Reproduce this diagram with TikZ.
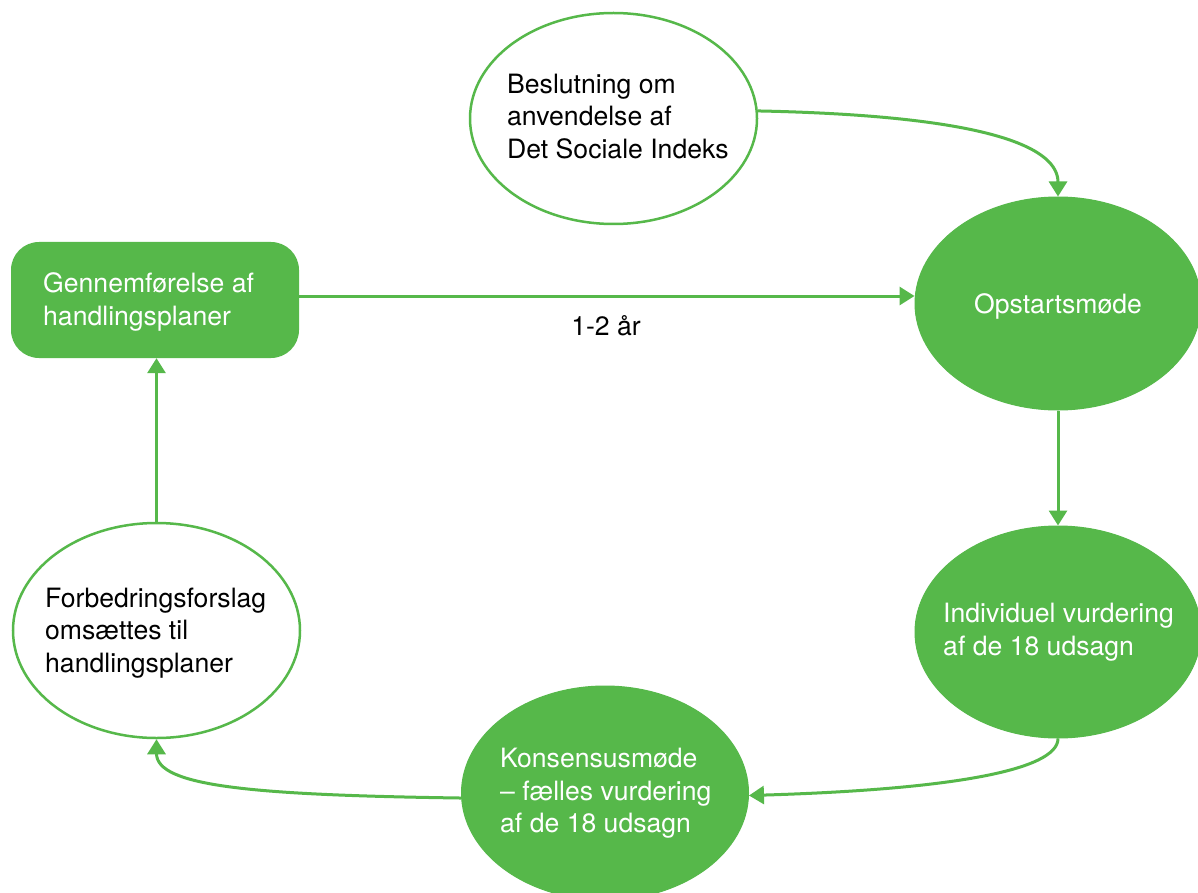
\documentclass[tikz,border=0pt]{standalone}
\usepackage{fontspec}
\setmainfont{TeX Gyre Heros}
\usetikzlibrary{shapes.geometric,arrows.meta}
\definecolor{sgreen}{RGB}{86,184,74}
\begin{document}
\begin{tikzpicture}[x=1pt,y=-1pt,
  ellw/.style={ellipse,draw=sgreen,line width=2.5pt,fill=white,inner sep=0pt},
  ellg/.style={ellipse,fill=sgreen,draw=sgreen,line width=1pt,inner sep=0pt},
  txt/.style={align=left,inner sep=0pt,font=\fontsize{26.6}{32.5}\selectfont},
  wtxt/.style={txt,text=white},
  arr/.style={draw=sgreen,line width=3pt,-{Triangle[width=18pt,length=15pt]}},
]
\useasboundingbox[fill=white] (0,0) rectangle (1198,893);

\node[ellw, minimum width=287pt, minimum height=211pt] (top) at (613.5,118.5) {};
\node[ellg, minimum width=286pt, minimum height=213pt] (ops) at (1058,303.5) {};
\node[ellg, minimum width=286pt, minimum height=212pt] (ind) at (1058,632) {};
\node[ellg, minimum width=287pt, minimum height=214pt] (kon) at (605,793) {};
\node[ellw, minimum width=287pt, minimum height=215pt] (forb) at (156.5,630.5) {};
\node[rectangle, rounded corners=28pt, fill=sgreen, inner sep=0pt,
      minimum width=288pt, minimum height=116pt] (gen) at (155,300) {};

\node[txt, anchor=west] (topt) at (507,116.5) {Beslutning om\\anvendelse af\\Det Sociale Indeks};
\node[wtxt, anchor=base] (opst) at (1058,313) {Opstartsmøde};
\node[wtxt, anchor=west] (indt) at (943,632) {Individuel vurdering\\af de 18 udsagn};
\node[wtxt, anchor=west] (kont) at (500,793.5) {Konsensusmøde\\– fælles vurdering\\af de 18 udsagn};
\node[txt, anchor=west] (forbt) at (45,633) {Forbedringsforslag\\omsættes til\\handlingsplaner};
\node[wtxt, anchor=west] (gent) at (43,302) {Gennemførelse af\\handlingsplaner};
\node[txt, anchor=base] (lbl) at (606,335) {1-2 år};

\draw[arr] (top.3.5) .. controls +(243,5) and +(0,-46) .. (ops.north);
\draw[arr] (ops.south) -- (ind.north);
\draw[arr] (ind.south) .. controls +(0,32) and +(200,-6) .. (kon.-1);
\draw[arr] (kon.182) .. controls +(-210,-3) and +(0,47) .. (forb.south);
\draw[arr] (forb.north) -- (forb.north |- gen.south);
\draw[arr] ([yshift=4pt]gen.east) -- ([yshift=4pt]gen.east -| ops.west);
\end{tikzpicture}
\end{document}
